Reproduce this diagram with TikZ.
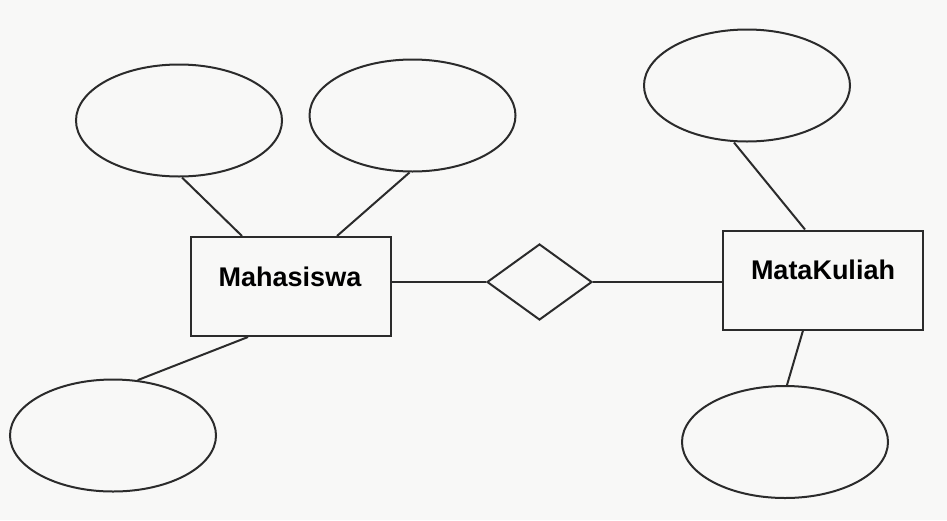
\documentclass[tikz,border=0pt]{standalone}
\usepackage{fontspec}
\setmainfont{Liberation Sans}
\usetikzlibrary{shapes.geometric}
\definecolor{bgc}{HTML}{F8F8F7}
\definecolor{ln}{HTML}{2B2B2B}
\tikzset{
  attr/.style={ellipse, draw=ln, line width=2pt, minimum width=206pt, minimum height=112pt, inner sep=0pt},
  entity/.style={rectangle, draw=ln, line width=2pt, minimum width=200pt, minimum height=99pt, inner sep=0pt},
  rel/.style={diamond, draw=ln, line width=2pt, minimum width=105pt, minimum height=76pt, inner sep=0pt},
  lbl/.style={font=\fontsize{27}{30}\selectfont\bfseries, text=black, inner sep=0pt},
  conn/.style={draw=ln, line width=2pt}
}
\begin{document}
\begin{tikzpicture}[x=1pt,y=-1pt]
\fill[bgc] (0,0) rectangle (947,520);
\useasboundingbox (0,0) rectangle (947,520);
\node[attr] (e1) at (179,120.5) {};
\node[attr] (e2) at (412.5,115.5) {};
\node[attr] (e3) at (747,85.5) {};
\node[attr] (e4) at (113,435.5) {};
\node[attr] (e5) at (785,442) {};
\node[entity] (r1) at (291,286.5) {};
\node[entity] (r2) at (823,280) {};
\node[rel] (d) at (539.5,282) {};
\node[lbl] (t1) at (290,277) {Mahasiswa};
\node[lbl] (t2) at (823,270) {MataKuliah};
\draw[conn] ([xshift=3pt]e1.south) -- ([xshift=-49pt]r1.north);
\draw[conn] ([xshift=-3pt]e2.south) -- ([xshift=46pt]r1.north);
\draw[conn] (e4.66) -- ([xshift=-43pt]r1.south);
\draw[conn] (d.west -| r1.east) -- (d.west);
\draw[conn] (d.east) -- (d.east -| r2.west);
\draw[conn] ([xshift=-13pt]e3.south) -- ([xshift=-18pt]r2.north);
\draw[conn] ([xshift=-20pt]r2.south) -- ([xshift=2pt]e5.north);
\end{tikzpicture}
\end{document}
